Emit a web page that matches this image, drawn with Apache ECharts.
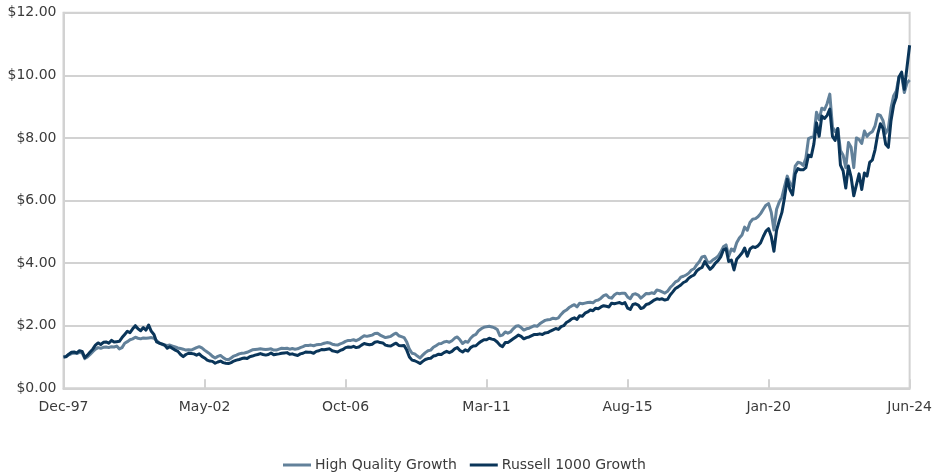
<!DOCTYPE html>
<html>
<head>
<meta charset="utf-8">
<script src="https://cdn.jsdelivr.net/npm/echarts@6/dist/echarts.min.js"></script>
<style>
  html, body { margin: 0; padding: 0; background: #ffffff; }
  #chart { width: 935px; height: 474px; }
</style>
</head>
<body>
<div id="chart"></div>
<script>
// Growth of $1, month-end values, Dec-1997 through Jun-2024 (319 months)
const monthNames = ['Jan', 'Feb', 'Mar', 'Apr', 'May', 'Jun', 'Jul', 'Aug', 'Sep', 'Oct', 'Nov', 'Dec'];
const startYear = 1997;
const startMonth = 11; // December
const monthCount = 319;

const categories = [];
for (let k = 0; k < monthCount; k++) {
  const m = (startMonth + k) % 12;
  const y = startYear + Math.floor((startMonth + k) / 12);
  categories.push(monthNames[m] + '-' + String(y % 100).padStart(2, '0'));
}

// Labelled months on the time axis
const tickLabels = ['Dec-97', 'May-02', 'Oct-06', 'Mar-11', 'Aug-15', 'Jan-20', 'Jun-24'];

// Value axis ticks (dollars)
const yMin = 0;
const yMax = 12;
const yStep = 2;

const highQualityGrowth = [
  1.00, 1.02, 1.07, 1.11, 1.13, 1.11, 1.15, 1.13, 0.95, 1.00, 1.08, 1.17, 1.25,
  1.30, 1.28, 1.31, 1.32, 1.30, 1.33, 1.32, 1.35, 1.26, 1.30, 1.44, 1.49,
  1.55, 1.58, 1.63, 1.60, 1.58, 1.61, 1.60, 1.61, 1.62, 1.60, 1.52, 1.45,
  1.40, 1.38, 1.37, 1.38, 1.35, 1.32, 1.29, 1.27, 1.25, 1.22, 1.23, 1.22,
  1.26, 1.30, 1.33, 1.29, 1.22, 1.16, 1.10, 1.02, 0.97, 1.02, 1.05, 0.98,
  0.93, 0.91, 0.97, 1.03, 1.06, 1.10, 1.12, 1.13, 1.15, 1.19, 1.23, 1.24,
  1.25, 1.26, 1.25, 1.24, 1.25, 1.26, 1.22, 1.22, 1.25, 1.28, 1.27, 1.28,
  1.25, 1.27, 1.25, 1.26, 1.30, 1.33, 1.37, 1.37, 1.38, 1.36, 1.39, 1.40,
  1.41, 1.44, 1.46, 1.45, 1.41, 1.39, 1.38, 1.42, 1.45, 1.50, 1.53, 1.53,
  1.55, 1.52, 1.56, 1.62, 1.68, 1.66, 1.68, 1.70, 1.75, 1.76, 1.70, 1.66,
  1.62, 1.64, 1.66, 1.72, 1.76, 1.68, 1.65, 1.62, 1.48, 1.25, 1.12, 1.10,
  1.03, 0.97, 1.06, 1.14, 1.20, 1.22, 1.31, 1.36, 1.42, 1.43, 1.48, 1.50,
  1.47, 1.52, 1.60, 1.64, 1.55, 1.43, 1.50, 1.47, 1.60, 1.68, 1.72, 1.84,
  1.90, 1.95, 1.97, 1.98, 1.96, 1.93, 1.88, 1.68, 1.70, 1.80, 1.76, 1.80,
  1.90, 1.98, 2.00, 1.94, 1.86, 1.90, 1.92, 1.96, 2.00, 1.98, 2.06, 2.12,
  2.17, 2.19, 2.20, 2.24, 2.22, 2.25, 2.36, 2.45, 2.50, 2.58, 2.63, 2.67,
  2.60, 2.72, 2.70, 2.72, 2.74, 2.75, 2.73, 2.80, 2.82, 2.88, 2.96, 2.99,
  2.90, 2.88, 2.98, 3.04, 3.02, 3.04, 3.04, 2.92, 2.86, 3.00, 3.02, 2.98,
  2.88, 2.95, 3.03, 3.02, 3.05, 3.03, 3.14, 3.12, 3.08, 3.04, 3.10, 3.22,
  3.30, 3.40, 3.44, 3.55, 3.58, 3.62, 3.68, 3.78, 3.82, 3.95, 4.05, 4.20,
  4.22, 4.04, 4.02, 4.10, 4.15, 4.22, 4.35, 4.52, 4.58, 4.22, 4.45, 4.38,
  4.65, 4.80, 4.90, 5.15, 5.05, 5.30, 5.40, 5.42, 5.48, 5.58, 5.72, 5.85,
  5.90, 5.62, 5.06, 5.72, 5.95, 6.10, 6.45, 6.78, 6.55, 6.45, 7.10, 7.22,
  7.20, 7.12, 7.35, 7.98, 8.02, 8.05, 8.82, 8.58, 8.95, 8.90, 9.10, 9.40,
  8.35, 8.20, 8.30, 7.60, 7.45, 7.05, 7.85, 7.70, 7.05, 8.00, 7.95, 7.82,
  8.22, 8.05, 8.15, 8.20, 8.38, 8.75, 8.72, 8.55, 8.15, 8.30, 8.95, 9.35,
  9.50, 9.95, 9.98, 9.45, 9.75, 9.85
];

const russell1000Growth = [
  1.00, 1.01, 1.09, 1.15, 1.16, 1.13, 1.20, 1.18, 0.98, 1.06, 1.16, 1.25, 1.38,
  1.45, 1.40, 1.47, 1.48, 1.44, 1.53, 1.48, 1.49, 1.50, 1.62, 1.72, 1.82,
  1.78, 1.90, 2.00, 1.90, 1.84, 1.94, 1.86, 2.02, 1.82, 1.72, 1.48, 1.44,
  1.42, 1.38, 1.28, 1.33, 1.27, 1.22, 1.18, 1.08, 1.01, 1.08, 1.12, 1.11,
  1.10, 1.06, 1.10, 1.02, 0.97, 0.90, 0.87, 0.86, 0.80, 0.84, 0.87, 0.82,
  0.80, 0.79, 0.82, 0.87, 0.90, 0.92, 0.95, 0.97, 0.95, 1.01, 1.03, 1.06,
  1.08, 1.11, 1.08, 1.06, 1.08, 1.13, 1.07, 1.09, 1.10, 1.12, 1.13, 1.14,
  1.09, 1.10, 1.07, 1.05, 1.10, 1.12, 1.16, 1.15, 1.15, 1.12, 1.18, 1.20,
  1.24, 1.23, 1.25, 1.26, 1.20, 1.18, 1.16, 1.21, 1.24, 1.30, 1.32, 1.31,
  1.34, 1.30, 1.32, 1.38, 1.43, 1.41, 1.39, 1.41, 1.47, 1.49, 1.46, 1.45,
  1.38, 1.36, 1.35, 1.40, 1.44, 1.37, 1.36, 1.37, 1.22, 1.00, 0.90, 0.88,
  0.84, 0.79, 0.86, 0.92, 0.95, 0.96, 1.03, 1.05, 1.09, 1.08, 1.14, 1.18,
  1.14, 1.18, 1.26, 1.30, 1.21, 1.16, 1.23, 1.19, 1.30, 1.35, 1.36, 1.44,
  1.50, 1.55, 1.55, 1.60, 1.57, 1.55, 1.48, 1.38, 1.33, 1.46, 1.46, 1.52,
  1.58, 1.64, 1.70, 1.66, 1.58, 1.62, 1.64, 1.68, 1.72, 1.72, 1.74, 1.72,
  1.77, 1.78, 1.83, 1.87, 1.91, 1.88, 1.97, 2.00, 2.10, 2.15, 2.22, 2.25,
  2.20, 2.32, 2.30, 2.40, 2.44, 2.50, 2.48, 2.56, 2.54, 2.60, 2.64, 2.62,
  2.60, 2.72, 2.70, 2.72, 2.74, 2.70, 2.74, 2.56, 2.52, 2.68, 2.70, 2.66,
  2.55, 2.58, 2.68, 2.70, 2.76, 2.82, 2.86, 2.84, 2.86, 2.82, 2.84, 2.98,
  3.08, 3.19, 3.24, 3.30, 3.38, 3.42, 3.52, 3.58, 3.62, 3.75, 3.82, 3.86,
  4.05, 3.92, 3.80, 3.88, 4.00, 4.08, 4.20, 4.42, 4.46, 4.05, 4.10, 3.78,
  4.12, 4.22, 4.32, 4.48, 4.22, 4.45, 4.52, 4.50, 4.55, 4.65, 4.85, 5.02,
  5.10, 4.85, 4.38, 5.05, 5.35, 5.62, 6.10, 6.68, 6.35, 6.18, 6.85, 7.02,
  6.98, 6.98, 7.05, 7.45, 7.40, 7.80, 8.48, 8.05, 8.70, 8.62, 8.72, 8.92,
  8.05, 7.92, 8.30, 7.13, 6.95, 6.40, 7.10, 6.75, 6.15, 6.50, 6.85, 6.35,
  6.88, 6.78, 7.22, 7.30, 7.62, 8.12, 8.45, 8.30, 7.80, 7.70, 8.55, 9.05,
  9.30, 9.95, 10.10, 9.55, 10.25, 10.96
];

const gridGray = '#d2d2d2';
const textGray = '#3b3b3b';
const fontFamily = '"DejaVu Sans", sans-serif';

const showTick = (idx, value) => tickLabels.indexOf(value) !== -1;

const chart = echarts.init(document.getElementById('chart'), null, { renderer: 'canvas' });

chart.setOption({
  animation: false,
  backgroundColor: '#ffffff',
  grid: {
    left: 63.5,
    right: 24.3,
    top: 12.7,
    bottom: 85.7,
    show: true,
    borderColor: gridGray,
    borderWidth: 2,
    containLabel: false
  },
  legend: {
    data: ['High Quality Growth', 'Russell 1000 Growth'],
    left: 278,
    top: 453,
    icon: 'rect',
    itemWidth: 28,
    itemHeight: 3,
    itemGap: 13,
    textStyle: { fontFamily: fontFamily, fontSize: 14, color: textGray, padding: [0, 0, 0, -1] }
  },
  xAxis: {
    type: 'category',
    data: categories,
    boundaryGap: false,
    axisLine: { show: true, lineStyle: { color: gridGray, width: 2 } },
    axisTick: { show: true, inside: true, length: 9, interval: showTick, lineStyle: { color: gridGray, width: 2 } },
    axisLabel: {
      interval: showTick,
      margin: 12,
      fontFamily: fontFamily,
      fontSize: 14,
      color: textGray
    },
    splitLine: { show: false }
  },
  yAxis: {
    type: 'value',
    min: yMin,
    max: yMax,
    interval: yStep,
    axisLine: { show: true, lineStyle: { color: gridGray, width: 2 } },
    axisTick: { show: false },
    axisLabel: {
      margin: 7,
      fontFamily: fontFamily,
      fontSize: 14,
      color: textGray,
      formatter: v => '$' + v.toFixed(2)
    },
    splitLine: { show: true, lineStyle: { color: gridGray, width: 2 } }
  },
  series: [
    {
      name: 'High Quality Growth',
      type: 'line',
      data: highQualityGrowth,
      symbol: 'none',
      color: '#62819a',
      lineStyle: { width: 3, color: '#62819a', join: 'round' },
      z: 2
    },
    {
      name: 'Russell 1000 Growth',
      type: 'line',
      data: russell1000Growth,
      symbol: 'none',
      color: '#0a3559',
      lineStyle: { width: 3, color: '#0a3559', join: 'round' },
      z: 3
    }
  ]
});
</script>
</body>
</html>
